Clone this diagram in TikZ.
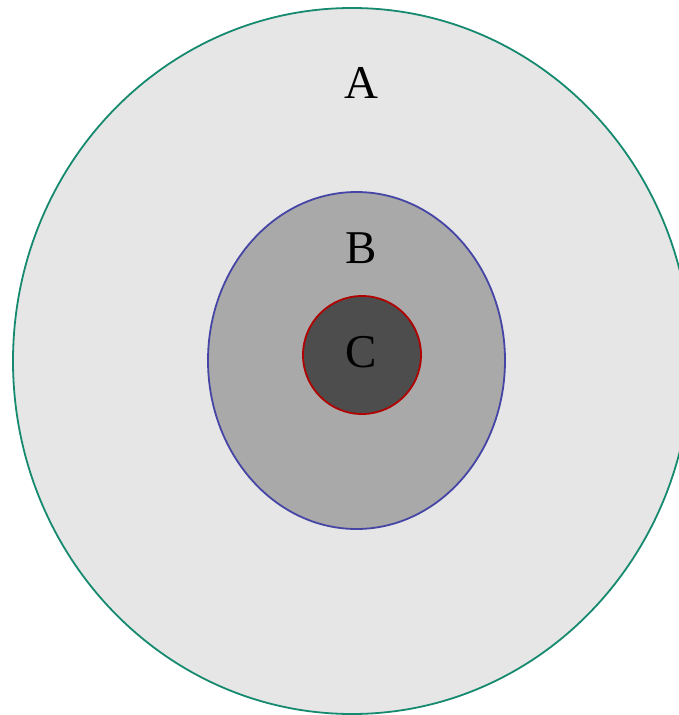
\documentclass[tikz,border=0pt]{standalone}
\usepackage{fontspec}
\setmainfont{Liberation Serif}
\definecolor{outerfill}{HTML}{E6E6E6}
\definecolor{outerline}{HTML}{168A6E}
\definecolor{midfill}{HTML}{A9A9A9}
\definecolor{midline}{HTML}{4545A5}
\definecolor{innerfill}{HTML}{4D4D4D}
\definecolor{innerline}{HTML}{B00000}
\begin{document}
\begin{tikzpicture}[x=1pt,y=-1pt,
  lbl/.style={font=\fontsize{47}{52}\selectfont, text=black, inner sep=0pt}]
\useasboundingbox (0,0) rectangle (679,715);
\begin{scope}
\clip (0,0) rectangle (679,715);
\draw[fill=outerfill, draw=outerline, line width=1.8pt] (352,361) ellipse [x radius=339, y radius=353];
\end{scope}
\draw[fill=midfill, draw=midline, line width=1.8pt] (356.5,360.5) ellipse [x radius=148.5, y radius=168.5];
\draw[fill=innerfill, draw=innerline, line width=1.8pt] (362,355) circle [radius=59];
\node[lbl] (a) at (361,83) {A};
\node[lbl] (b) at (361,248) {B};
\node[lbl] (c) at (361,352.5) {C};
\end{tikzpicture}
\end{document}
